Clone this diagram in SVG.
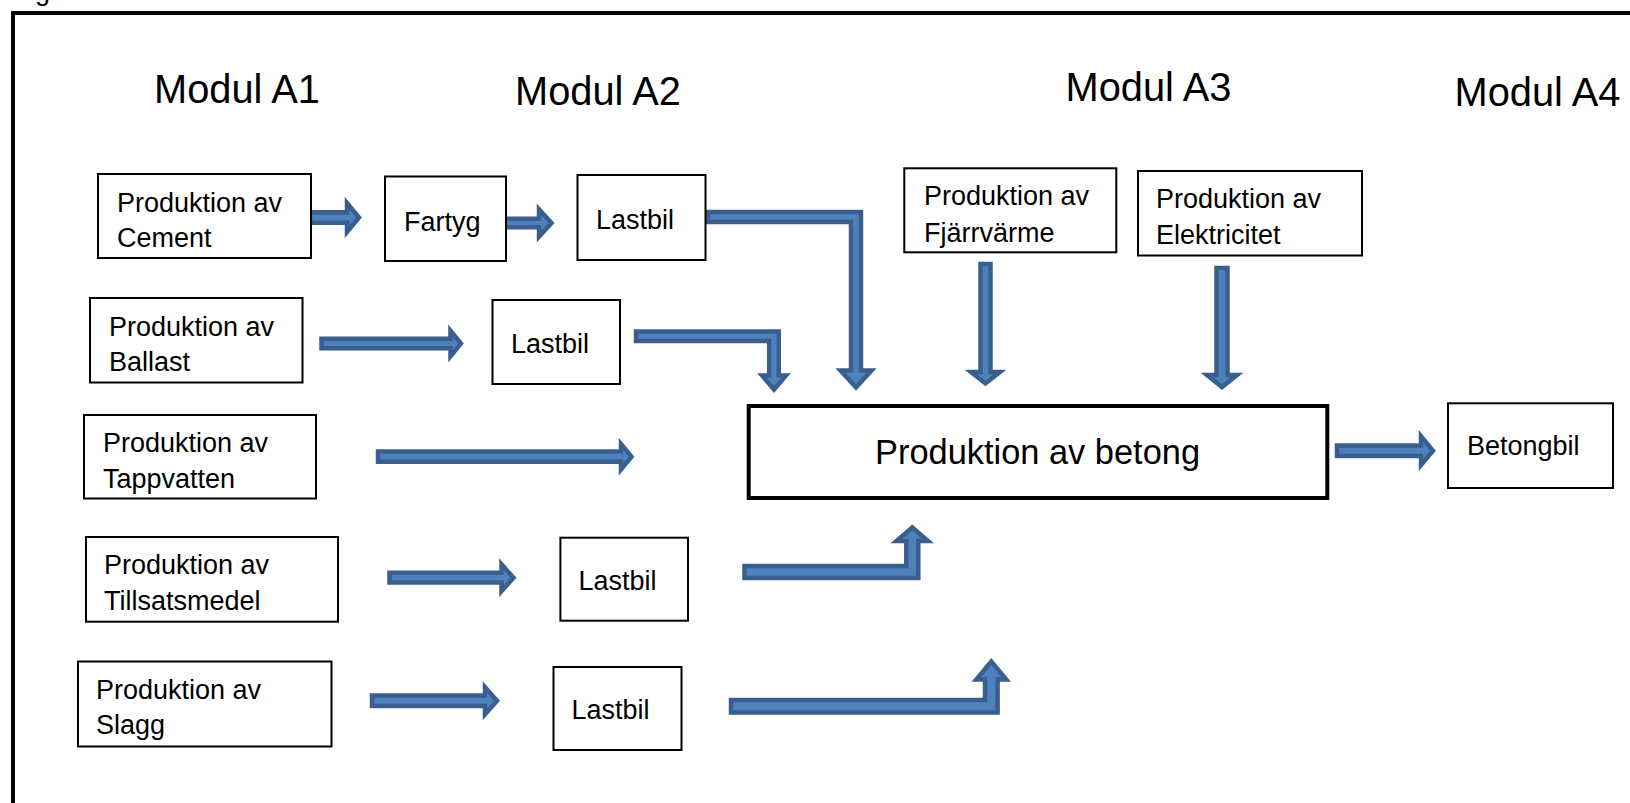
<svg xmlns="http://www.w3.org/2000/svg" width="1630" height="803" viewBox="0 0 1630 803">
<style>
.box{fill:#fff;stroke:#000;stroke-width:2}
.main{fill:#fff;stroke:#000;stroke-width:4}
.t{font-family:"Liberation Sans",Arial,sans-serif;font-size:27px;fill:#000}
.mod{font-family:"Liberation Sans",Arial,sans-serif;font-size:39.8px;fill:#000}
.big{font-family:"Liberation Sans",Arial,sans-serif;font-size:34.4px;fill:#000}
.arr{fill:#4F81BD;stroke:#3A5F8E;stroke-width:4.5;stroke-linejoin:miter}
</style>
<rect width="1630" height="803" fill="#fff"/>
<text class="t" x="35" y="0">g</text>
<path d="M13,803 V13 H1632" fill="none" stroke="#000" stroke-width="4"/>
<g id="labels">
<text class="mod" x="154" y="103">Modul A1</text>
<text class="mod" x="515" y="105">Modul A2</text>
<text class="mod" x="1065.5" y="101">Modul A3</text>
<text class="mod" x="1454.5" y="106">Modul A4</text>
</g>
<g id="connectors">
<path class="arr" d="M310,212.25 H347 V203 L359,217.5 L347,232 V222.75 H310 Z"/>
<path class="arr" d="M505,218.75 H539 V209.25 L551.5,223 L539,236.75 V227.25 H505 Z"/>
<path class="arr" d="M708,212 H861 V370.5 H871.5 L856,387.5 L840.5,370.5 H851 V222 H708 Z"/>
<path class="arr" d="M321.5,338.75 H450.5 V330.75 L461,343.5 L450.5,356.25 V348.25 H321.5 Z"/>
<path class="arr" d="M636,331.5 H778.8 V375.5 H786 L774,389.5 L762,375.5 H769.2 V341.1 H636 Z"/>
<path class="arr" d="M378,451.6 H621 V444 L631.5,456.7 L621,469.4 V461.8 H378 Z"/>
<path class="arr" d="M389.5,572.8 H501.5 V564.2 L513.5,577.7 L501.5,591.2 V582.6 H389.5 Z"/>
<path class="arr" d="M744.5,566 H906.3 V541 H896.5 L912.3,527.5 L928,541 H918.3 V578 H744.5 Z"/>
<path class="arr" d="M372,695.55 H485 V687.2 L497,700.8 L485,714.4 V706.05 H372 Z"/>
<path class="arr" d="M731,700 H985 V679.5 H976.3 L991.3,661.5 L1006.3,679.5 H997.6 V712.5 H731 Z"/>
<path class="arr" d="M980.5,264 H990.5 V372 H1000 L985.5,383.5 L971,372 H980.5 Z"/>
<path class="arr" d="M1216.5,268 H1227.5 V375 H1237 L1222,387 L1207,375 H1216.5 Z"/>
<path class="arr" d="M1337,445.45 H1421 V436.3 L1433,450.7 L1421,465.1 V455.95 H1337 Z"/>
</g>
<g id="cement"><rect class="box" x="98" y="174" width="213" height="84"/><text class="t" x="117" y="212">Produktion av</text><text class="t" x="117" y="247">Cement</text></g>
<g id="fartyg"><rect class="box" x="385" y="176.5" width="121" height="84.5"/><text class="t" x="404" y="231">Fartyg</text></g>
<g id="lastbil1"><rect class="box" x="577.5" y="175" width="128" height="85"/><text class="t" x="596" y="228.5">Lastbil</text></g>
<g id="ballast"><rect class="box" x="90" y="298" width="212.5" height="84.5"/><text class="t" x="109" y="336">Produktion av</text><text class="t" x="109" y="371">Ballast</text></g>
<g id="lastbil2"><rect class="box" x="492.5" y="300" width="127.5" height="84"/><text class="t" x="511" y="353">Lastbil</text></g>
<g id="tappvatten"><rect class="box" x="84" y="415" width="232" height="83.5"/><text class="t" x="103" y="452">Produktion av</text><text class="t" x="103" y="487.5">Tappvatten</text></g>
<g id="tillsatsmedel"><rect class="box" x="86" y="537" width="252" height="84.7"/><text class="t" x="104" y="574">Produktion av</text><text class="t" x="104" y="610">Tillsatsmedel</text></g>
<g id="lastbil3"><rect class="box" x="560.4" y="537.7" width="127.6" height="83"/><text class="t" x="578.5" y="590">Lastbil</text></g>
<g id="slagg"><rect class="box" x="78" y="661.5" width="253.5" height="85"/><text class="t" x="96" y="698.5">Produktion av</text><text class="t" x="96" y="733.5">Slagg</text></g>
<g id="lastbil4"><rect class="box" x="553.5" y="667" width="128" height="83"/><text class="t" x="571.5" y="718.5">Lastbil</text></g>
<g id="fjarrvarme"><rect class="box" x="904.3" y="168.3" width="212" height="84"/><text class="t" x="924" y="205">Produktion av</text><text class="t" x="924" y="241.5">Fjärrvärme</text></g>
<g id="elektricitet"><rect class="box" x="1138" y="171" width="224" height="84.5"/><text class="t" x="1156" y="207.5">Produktion av</text><text class="t" x="1156" y="244">Elektricitet</text></g>
<g id="betong"><rect class="main" x="748.7" y="406" width="578.6" height="92"/><text class="big" x="875" y="463.5">Produktion av betong</text></g>
<g id="betongbil"><rect class="box" x="1448" y="403.3" width="165" height="84.7"/><text class="t" x="1467" y="455">Betongbil</text></g>
</svg>
